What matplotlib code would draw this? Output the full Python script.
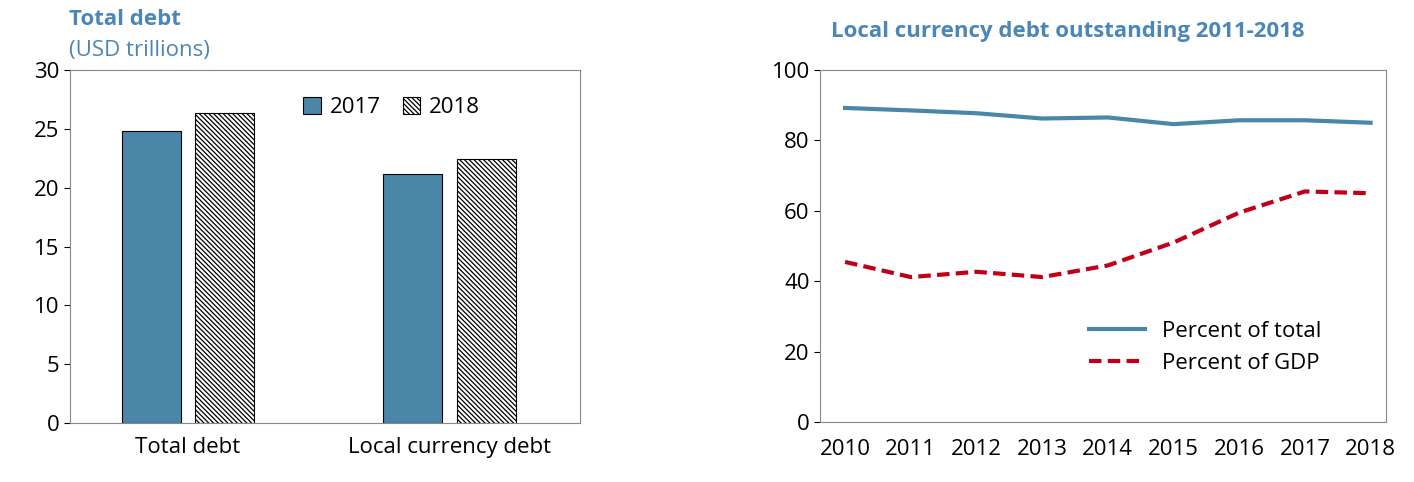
import matplotlib.pyplot as plt
import numpy as np

plt.rcParams["font.family"] = ["Open Sans", "DejaVu Sans"]
plt.rcParams["hatch.linewidth"] = 0.9

BLUE = "#4a86a8"
TITLE = "#4a86b8"
RED = "#c00018"

categories = ["Total debt", "Local currency debt"]
debt_2017 = [24.8, 21.2]
debt_2018 = [26.3, 22.4]

years = [2010, 2011, 2012, 2013, 2014, 2015, 2016, 2017, 2018]
pct_total = [89.2, 88.5, 87.7, 86.2, 86.5, 84.6, 85.7, 85.7, 85.0]
pct_gdp = [45.5, 41.2, 42.7, 41.2, 44.5, 51.0, 59.5, 65.5, 65.0]

FS = 16

fig = plt.figure(figsize=(14.14, 4.82), dpi=100)
ax1 = fig.add_axes([0.0495, 0.122, 0.361, 0.733])
ax2 = fig.add_axes([0.58, 0.124, 0.40, 0.731])

x = np.arange(len(categories))
w = 0.225
ax1.bar(x - 0.14, debt_2017, w, color=BLUE, edgecolor="black", linewidth=0.8, label="2017")
ax1.bar(x + 0.14, debt_2018, w, color="white", edgecolor="black", hatch="\\\\\\\\\\\\\\", linewidth=0.8, label="2018")
ax1.set_xlim(-0.45, 1.5)
ax1.set_ylim(0, 30)
ax1.set_yticks(range(0, 31, 5))
ax1.set_xticks(x)
ax1.set_xticklabels(categories)
ax1.tick_params(axis="x", length=0, labelsize=FS, pad=10)
ax1.tick_params(axis="y", labelsize=FS, direction="out", length=4)
ax1.legend(loc="upper center", bbox_to_anchor=(0.63, 0.98), ncol=2, frameon=False,
           fontsize=FS, handlelength=0.8, handleheight=0.8, columnspacing=1.0, handletextpad=0.4)
fig.text(0.049, 0.96, "Total debt", color=TITLE, fontsize=16, fontweight="bold", va="center")
fig.text(0.049, 0.895, "(USD trillions)", color=TITLE, fontsize=16, va="center")

ax2.plot(years, pct_total, color=BLUE, linewidth=3, label="Percent of total")
ax2.plot(years, pct_gdp, color=RED, linewidth=3, linestyle=(0, (3, 1.5)), label="Percent of GDP")
ax2.set_xlim(2009.62, 2018.23)
ax2.set_ylim(0, 100)
ax2.set_yticks(range(0, 101, 20))
ax2.set_xticks(years)
ax2.tick_params(axis="x", length=0, labelsize=FS, pad=12)
ax2.tick_params(axis="y", labelsize=FS, direction="out", length=4)
ax2.legend(loc="lower left", bbox_to_anchor=(0.44, 0.08), frameon=False, fontsize=FS,
           handlelength=2.5, labelspacing=0.5)
fig.text(0.588, 0.935, "Local currency debt outstanding 2011-2018", color=TITLE,
         fontsize=16, fontweight="bold", va="center")

for ax in (ax1, ax2):
    for s in ax.spines.values():
        s.set_color("#888888")
        s.set_linewidth(0.8)

fig.savefig("out.png")
